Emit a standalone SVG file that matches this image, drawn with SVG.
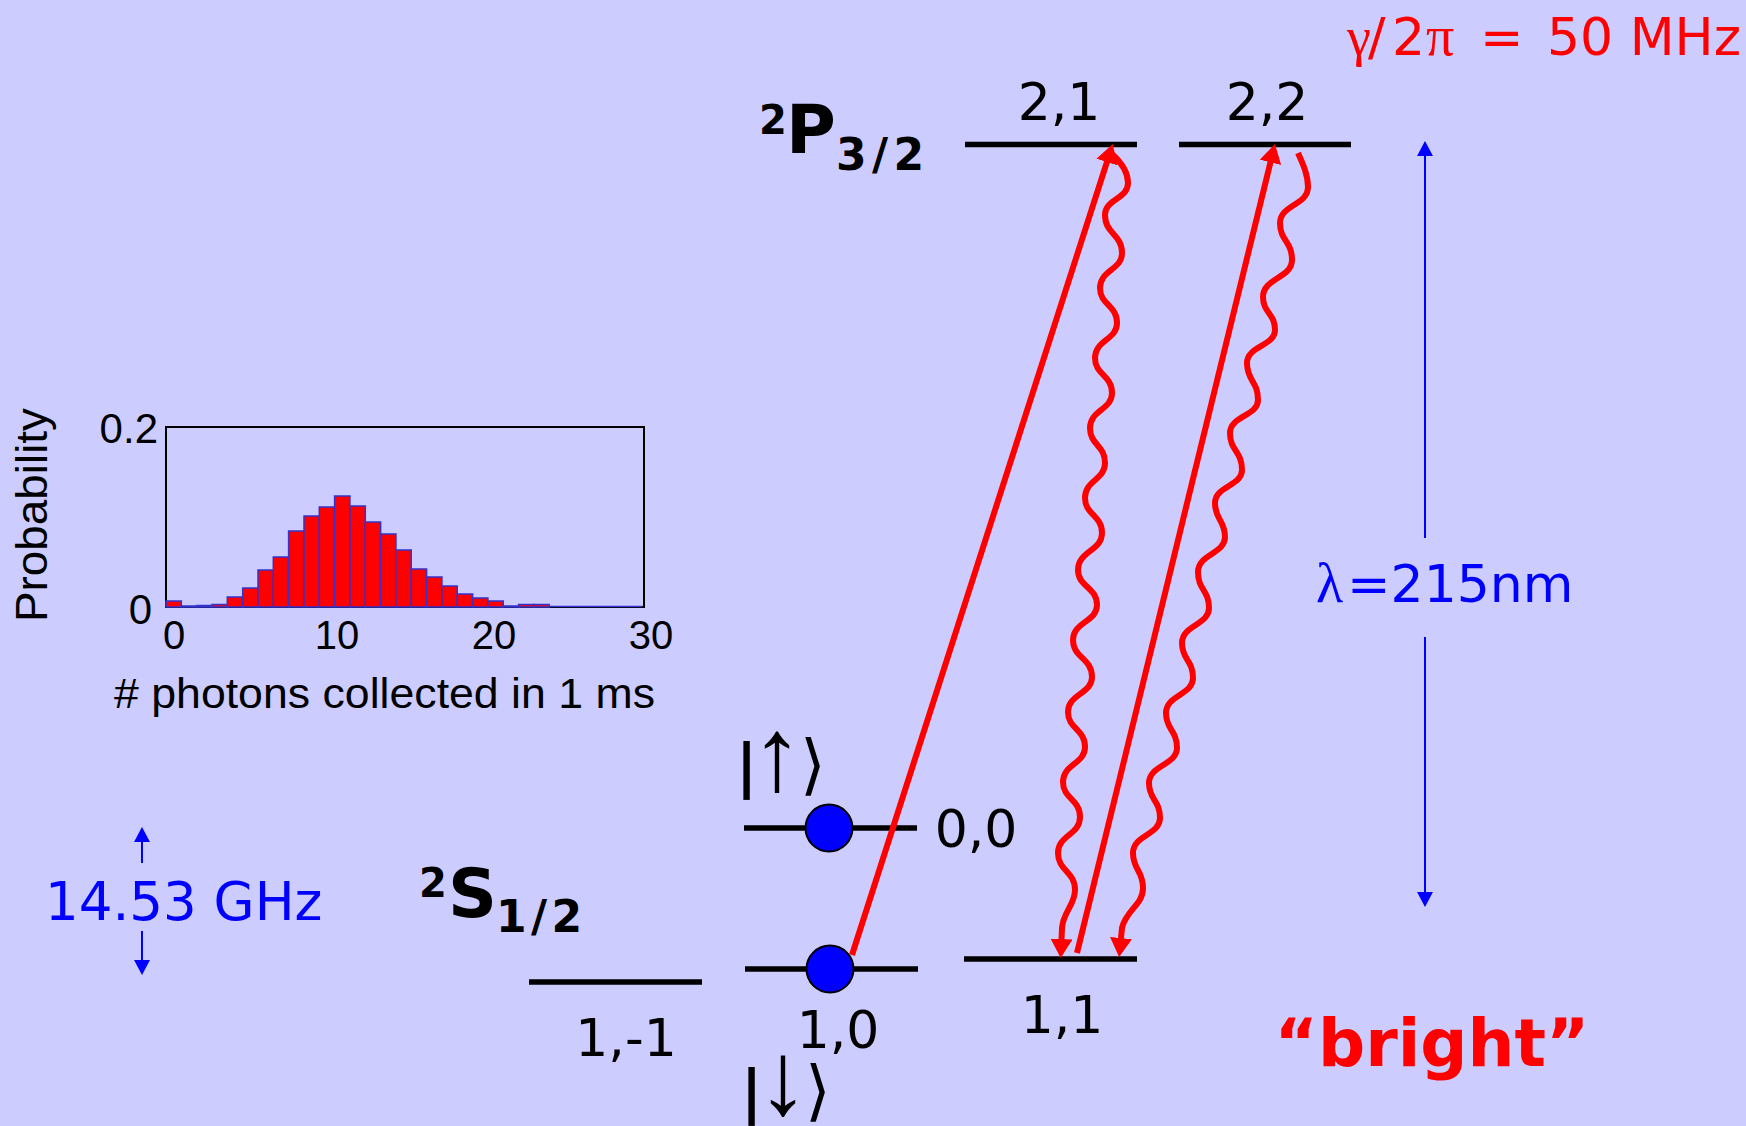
<svg xmlns="http://www.w3.org/2000/svg" width="1746" height="1126" viewBox="0 0 1746 1126">
<style>
.bg{fill:#CCCCFF}
.lvl{stroke:#000;stroke-width:5.5;fill:none}
.lab{font-family:"DejaVu Sans",Verdana,sans-serif;font-size:52px;fill:#000}
.term{font-family:"DejaVu Sans",Verdana,sans-serif;font-weight:bold;fill:#000}
.bright{font-family:"DejaVu Sans",Verdana,sans-serif;font-weight:bold;fill:#FF0000}
.greek{font-family:"Liberation Serif","Times New Roman",serif}
.sans{font-family:"DejaVu Sans",Verdana,sans-serif}
.arrowglyph{font-family:"Liberation Sans",Arial,sans-serif;font-size:104px;fill:#000}
.comic{font-family:"Liberation Sans",Arial,sans-serif;fill:#000}
.red{stroke:#FF0000;stroke-width:6;fill:none}
.blue{stroke:#0000FF;stroke-width:2;fill:none}
.bar{fill:#FF0000;stroke:#3333CC;stroke-width:1.5}
.ion{fill:#0000FF;stroke:#000;stroke-width:2}
</style>
<defs>
<marker id="rh" viewBox="0 0 19 22" refX="12" refY="11" markerWidth="19" markerHeight="22" orient="auto" markerUnits="userSpaceOnUse"><path d="M0,0 L19,11 L0,22 z" fill="#FF0000"/></marker>
<marker id="bh" viewBox="0 0 15 16" refX="13" refY="8" markerWidth="15" markerHeight="16" orient="auto" markerUnits="userSpaceOnUse"><path d="M0,0 L15,8 L0,16 z" fill="#0000FF"/></marker>
</defs>
<rect class="bg" x="0" y="0" width="1746" height="1126"/>

<g id="linewidth-label">
<text y="55" font-size="52" fill="#FF0000"><tspan class="greek" x="1347" font-size="54">γ</tspan><tspan class="sans" x="1368">/</tspan><tspan class="sans" x="1392">2</tspan><tspan class="greek" x="1426" font-size="56">π</tspan><tspan class="sans" x="1480">=</tspan></text>
<text class="sans" x="1741" y="55" font-size="52" fill="#FF0000" text-anchor="end">50 MHz</text>
</g>

<g id="term-P">
<text class="term" x="759" y="134" font-size="40">2</text>
<text class="term" x="786" y="153" font-size="68">P</text>
<text class="term" x="836" y="170" font-size="44" textLength="88" lengthAdjust="spacing">3/2</text>
</g>

<g id="term-S">
<text class="term" x="419" y="897" font-size="40">2</text>
<text class="term" x="448" y="917" font-size="68">S</text>
<text class="term" x="496" y="932" font-size="44" textLength="86" lengthAdjust="spacing">1/2</text>
</g>

<g id="level-21">
<line class="lvl" x1="965" y1="144.5" x2="1137" y2="144.5"/>
<text class="lab" x="1059" y="120" text-anchor="middle">2,1</text>
</g>
<g id="level-22">
<line class="lvl" x1="1179" y1="144.5" x2="1351" y2="144.5"/>
<text class="lab" x="1267" y="120" text-anchor="middle">2,2</text>
</g>
<g id="level-1m1">
<line class="lvl" x1="529" y1="982" x2="702" y2="982"/>
<text class="lab" x="626" y="1056" text-anchor="middle">1,-1</text>
</g>
<g id="level-10">
<line class="lvl" x1="745" y1="969" x2="918" y2="969"/>
<text class="lab" x="838" y="1048" text-anchor="middle">1,0</text>
</g>
<g id="level-00">
<line class="lvl" x1="744" y1="828" x2="917" y2="828"/>
<text class="lab" x="976" y="847" text-anchor="middle">0,0</text>
</g>
<g id="level-11">
<line class="lvl" x1="964" y1="959" x2="1137" y2="959"/>
<text class="lab" x="1062" y="1033" text-anchor="middle">1,1</text>
</g>

<g id="connectors">
<path class="red" d="M852,955 L1110.6,150.6" marker-end="url(#rh)"/>
<path class="red" d="M1077,953 L1273.3,150.7" marker-end="url(#rh)"/>
<path class="red" marker-end="url(#rh)" d="M1112,154 C1122,163 1128,172 1128,183 C1128,199 1105,199 1105,215 C1105,234 1122,234 1122,253 C1122,270 1100,270 1100,288 C1100,305 1117,305 1117,323 C1117,340 1095,340 1095,358 C1095,375 1112,375 1112,393 C1112,410 1090,410 1090,428 C1090,445 1105,445 1105,463 C1105,480 1085,480 1085,498 C1085,515 1102,515 1102,533 C1102,551 1078,551 1078,570 C1078,587 1097,587 1097,605 C1097,622 1073,622 1073,640 C1073,658 1092,658 1092,677 C1092,694 1068,694 1068,712 C1068,729 1085,729 1085,747 C1085,764 1063,764 1063,782 C1063,799 1080,799 1080,817 C1080,835 1058,835 1058,853 C1058,871 1075,871 1075,890 C1075,905 1063,912 1062,928 L1061,951"/>
<path class="red" marker-end="url(#rh)" d="M1298,153 C1303,164 1308,175 1308,187 C1308,205 1280,205 1280,223 C1280,241 1292,241 1292,260 C1292,278 1263,278 1263,297 C1263,313 1275,313 1275,330 C1275,346 1247,346 1247,363 C1247,381 1258,381 1258,400 C1258,416 1230,416 1230,433 C1230,451 1242,451 1242,470 C1242,486 1215,486 1215,503 C1215,520 1225,520 1225,537 C1225,554 1198,554 1198,572 C1198,590 1209,590 1209,608 C1209,625 1182,625 1182,643 C1182,660 1193,660 1193,678 C1193,695 1166,695 1166,713 C1166,730 1177,730 1177,748 C1177,765 1149,765 1149,783 C1149,800 1160,800 1160,818 C1160,835 1133,835 1133,853 C1133,870 1143,870 1143,888 C1143,905 1126,910 1122,928 L1119.8,950"/>
<line class="blue" x1="1425" y1="538" x2="1425" y2="143" marker-end="url(#bh)"/>
<line class="blue" x1="1425" y1="637" x2="1425" y2="905" marker-end="url(#bh)"/>
<line class="blue" x1="142" y1="863" x2="142" y2="829" marker-end="url(#bh)"/>
<line class="blue" x1="142" y1="931" x2="142" y2="973" marker-end="url(#bh)"/>
</g>

<g id="ion-up">
<circle class="ion" cx="829" cy="828" r="23.5"/>
<text class="term" x="736" y="786" font-size="58">|</text>
<text class="arrowglyph" x="751" y="790">↑</text>
<text class="sans" x="800" y="787" font-size="66">⟩</text>
</g>
<g id="ion-down">
<circle class="ion" cx="830" cy="969" r="23.5"/>
<text class="term" x="741" y="1112" font-size="58">|</text>
<text class="arrowglyph" x="757" y="1114">↓</text>
<text class="sans" x="805" y="1113" font-size="66">⟩</text>
</g>

<g id="wavelength-label">
<text y="602" font-size="52" fill="#0000FF"><tspan class="greek" x="1316" font-size="56">λ</tspan><tspan class="sans" x="1347">=215nm</tspan></text>
</g>
<g id="hyperfine-label">
<text class="sans" x="45" y="920" font-size="53" fill="#0000FF">14.53 GHz</text>
</g>
<g id="bright-label">
<text class="bright" x="1432" y="1066" font-size="66" text-anchor="middle">“bright”</text>
</g>

<g id="histogram">
<rect x="166" y="427" width="478" height="180" fill="none" stroke="#000" stroke-width="2"/>
<rect class="bar" x="166.0" y="601" width="15.33" height="6"/>
<rect class="bar" x="181.3" y="606" width="15.33" height="1"/>
<rect class="bar" x="196.7" y="605.5" width="15.33" height="1.5"/>
<rect class="bar" x="212.0" y="604.5" width="15.33" height="2.5"/>
<rect class="bar" x="227.3" y="597" width="15.33" height="10"/>
<rect class="bar" x="242.7" y="588" width="15.33" height="19"/>
<rect class="bar" x="258.0" y="570" width="15.33" height="37"/>
<rect class="bar" x="273.3" y="557" width="15.33" height="50"/>
<rect class="bar" x="288.6" y="531" width="15.33" height="76"/>
<rect class="bar" x="304.0" y="516" width="15.33" height="91"/>
<rect class="bar" x="319.3" y="507" width="15.33" height="100"/>
<rect class="bar" x="334.6" y="496" width="15.33" height="111"/>
<rect class="bar" x="350.0" y="506" width="15.33" height="101"/>
<rect class="bar" x="365.3" y="522" width="15.33" height="85"/>
<rect class="bar" x="380.6" y="534" width="15.33" height="73"/>
<rect class="bar" x="395.9" y="550" width="15.33" height="57"/>
<rect class="bar" x="411.3" y="569" width="15.33" height="38"/>
<rect class="bar" x="426.6" y="577" width="15.33" height="30"/>
<rect class="bar" x="441.9" y="586" width="15.33" height="21"/>
<rect class="bar" x="457.3" y="594" width="15.33" height="13"/>
<rect class="bar" x="472.6" y="598" width="15.33" height="9"/>
<rect class="bar" x="487.9" y="601" width="15.33" height="6"/>
<rect class="bar" x="503.3" y="606" width="15.33" height="1"/>
<rect class="bar" x="518.6" y="604.5" width="15.33" height="2.5"/>
<rect class="bar" x="533.9" y="604.5" width="15.33" height="2.5"/>
<line x1="549" y1="606.5" x2="642" y2="606.5" stroke="#3333CC" stroke-width="1.5"/>
<text class="comic" x="158" y="443" font-size="42" text-anchor="end">0.2</text>
<text class="comic" x="152" y="624" font-size="42" text-anchor="end">0</text>
<text class="comic" x="174" y="649" font-size="40" text-anchor="middle">0</text>
<text class="comic" x="337" y="649" font-size="40" text-anchor="middle">10</text>
<text class="comic" x="494" y="649" font-size="40" text-anchor="middle">20</text>
<text class="comic" x="651" y="649" font-size="40" text-anchor="middle">30</text>
<text class="comic" x="114" y="708" font-size="42" textLength="541" lengthAdjust="spacingAndGlyphs">#  photons collected in 1 ms</text>
<text class="comic" transform="translate(47,622) rotate(-90)" font-size="44" textLength="214" lengthAdjust="spacingAndGlyphs">Probability</text>
</g>
</svg>
